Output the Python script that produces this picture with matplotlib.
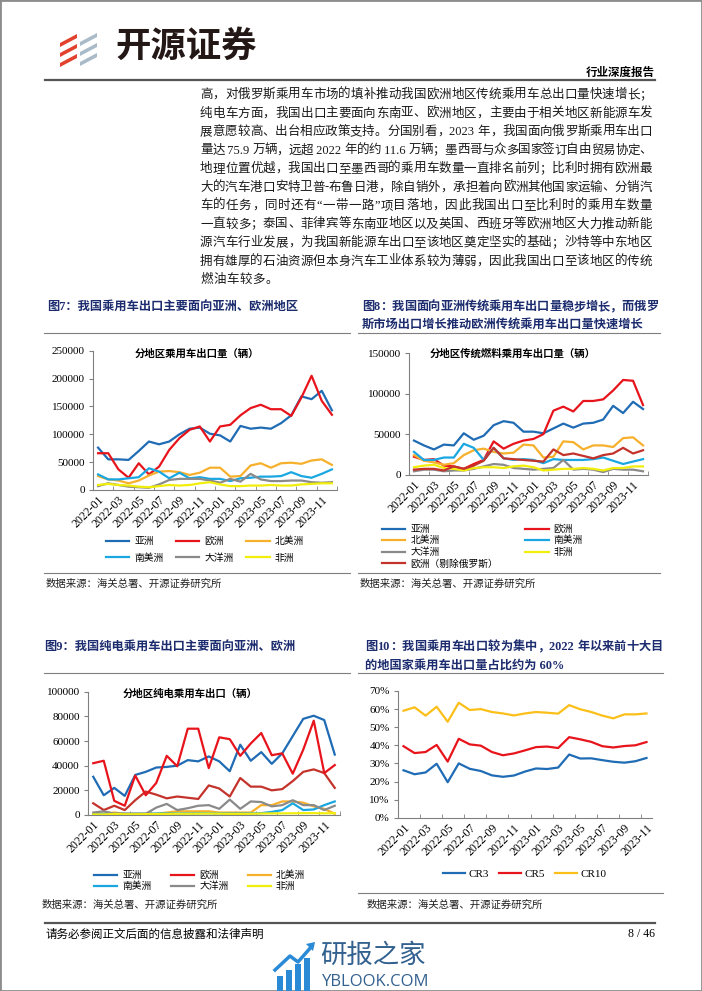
import re
import numpy as np
import matplotlib
matplotlib.use("Agg")
import matplotlib.pyplot as plt
from matplotlib.lines import Line2D
from matplotlib.patches import Polygon, Rectangle
from matplotlib.transforms import Affine2D
from matplotlib.ticker import PercentFormatter

plt.rcParams['font.family'] = ['Liberation Serif', 'Noto Sans CJK SC']
CJK = ['Noto Sans CJK SC', 'DejaVu Sans']

# ---- DATA

months = ['2022-01', '2022-02', '2022-03', '2022-04', '2022-05', '2022-06',
          '2022-07', '2022-08', '2022-09', '2022-10', '2022-11', '2022-12',
          '2023-01', '2023-02', '2023-03', '2023-04', '2023-05', '2023-06',
          '2023-07', '2023-08', '2023-09', '2023-10', '2023-11', '2023-12']

region_names = ['亚洲', '欧洲', '北美洲', '南美洲', '大洋洲', '非洲']

# fig 7: all passenger cars by region (units)
asia_all = [76000, 55000, 55000, 54000, 70000, 87000, 82000, 87000, 100000, 110000, 112000, 101000,
            98000, 87000, 115000, 110000, 112000, 110000, 120000, 134000, 168000, 163000, 178000, 143000]
europe_all = [66000, 66000, 37000, 22000, 48000, 28000, 42000, 72000, 93000, 108000, 114000, 87000,
              114000, 117000, 134000, 147000, 153000, 145000, 145000, 133000, 166000, 205000, 160000, 135000]
namerica_all = [25000, 19000, 17000, 12000, 17000, 26000, 33000, 34000, 32000, 27000, 31000, 40000,
                40000, 24000, 25000, 44000, 48000, 40000, 48000, 49000, 47000, 53000, 55000, 45000]
samerica_all = [28000, 19000, 19000, 21000, 23000, 39000, 33000, 21000, 31000, 21000, 23000, 20000,
                20000, 16000, 21000, 22000, 24000, 24000, 25000, 32000, 25000, 22000, 29000, 37000]
oceania_all = [7000, 12000, 9000, 6000, 5000, 4000, 10000, 18000, 20000, 20000, 20000, 17000,
               13000, 20000, 15000, 29000, 19000, 16000, 16000, 17000, 17000, 14000, 13000, 14000]
africa_all = [9000, 11000, 9000, 8000, 6000, 5000, 7000, 9000, 8000, 9000, 12000, 14000,
              10000, 7000, 7000, 8000, 8000, 9000, 8000, 8000, 10000, 11000, 12000, 12000]

# fig 8: ICE passenger cars by region
asia_ice = [42000, 36000, 31000, 37000, 36000, 51000, 43000, 48000, 61000, 66000, 64000, 53000,
            53000, 51000, 57000, 63000, 58000, 63000, 64000, 68000, 85000, 76000, 90000, 81000]
europe_ice = [22000, 18000, 19000, 11000, 10000, 7000, 13000, 18000, 41000, 32000, 38000, 42000,
              44000, 50000, 79000, 84000, 78000, 91000, 91000, 93000, 104000, 117000, 116000, 86000]
namerica_ice = [24000, 17000, 15000, 12000, 14000, 24000, 30000, 32000, 28000, 26000, 27000, 37000,
                36000, 21000, 22000, 41000, 40000, 31000, 36000, 36000, 34000, 45000, 46000, 36000]
samerica_ice = [28000, 18000, 18000, 21000, 21000, 38000, 33000, 18000, 33000, 20000, 18000, 19000,
                18000, 14000, 19000, 18000, 18000, 18000, 19000, 21000, 17000, 13000, 16000, 19000]
oceania_ice = [4000, 6000, 6000, 4000, 5000, 5000, 7000, 10000, 13000, 12000, 8000, 7000,
               6000, 7000, 8000, 18000, 6000, 7000, 6000, 3000, 7000, 6000, 6000, 4000]
africa_ice = [9000, 11000, 12000, 8000, 7000, 5000, 8000, 9000, 9000, 8000, 10000, 11000,
              9000, 5000, 6000, 7000, 7000, 8000, 7000, 5000, 8000, 8000, 10000, 10000]
europe_exru_ice = [6000, 7000, 7000, 5000, 10000, 7000, 11000, 17000, 33000, 20000, 19000, 18000,
                   17000, 16000, 31000, 24000, 26000, 23000, 20000, 24000, 26000, 33000, 26000, 30000]

# fig 9: BEV passenger cars by region
asia_bev = [31000, 16000, 22000, 15500, 32500, 35000, 38500, 39000, 40000, 44500, 43500, 47500,
            43500, 35500, 57000, 44000, 51000, 41500, 50000, 64000, 78000, 80500, 77000, 49000]
europe_bev = [42000, 44000, 11500, 7500, 32000, 16000, 26000, 48000, 39500, 70000, 70000, 38000,
              63000, 61500, 48000, 58000, 66500, 48500, 50000, 33500, 53000, 76500, 34000, 40500]
namerica_bev = [1000, 1000, 2000, 1000, 1000, 1000, 1000, 2000, 3000, 3000, 3000, 3000,
                2000, 2000, 2000, 2000, 8000, 8000, 11000, 11000, 10000, 7000, 5000, 1000]
samerica_bev = [800, 900, 900, 1000, 1000, 1000, 1200, 1300, 1200, 1300, 1400, 1400,
                1300, 1200, 1200, 1300, 1500, 2500, 4000, 9500, 4000, 4500, 8000, 11000]
oceania_bev = [2000, 3000, 1000, 1000, 1000, 1000, 6000, 9000, 4000, 5500, 7500, 8000,
               5000, 12500, 5000, 11000, 10500, 7000, 8000, 12000, 8000, 8000, 4000, 7500]
africa_bev = [500, 500, 800, 600, 600, 700, 800, 900, 1000, 1000, 1100, 1200,
              1100, 900, 900, 1000, 1200, 1300, 1300, 1400, 1500, 1500, 1400, 1500]
europe_exru_bev = [9500, 4000, 7500, 4000, 12000, 19000, 16500, 13500, 15000, 14000, 13000, 24000,
                   21500, 15000, 30000, 23000, 23000, 20000, 21000, 27500, 35000, 37000, 34000, 22000]

# fig 10: concentration ratios (%), 2022-01 .. 2023-11
cr3 = [26.2, 24.0, 25.0, 29.8, 19.6, 30.0, 27.0, 25.8, 23.4, 22.6, 23.3, 25.5,
       27.2, 26.9, 27.7, 34.9, 32.7, 32.8, 31.8, 30.9, 30.4, 31.2, 33.0]
cr5 = [39.5, 35.7, 36.3, 40.2, 31.0, 43.6, 40.5, 39.8, 36.3, 34.5, 35.5, 37.2,
       39.0, 39.3, 38.5, 44.5, 43.3, 41.9, 39.5, 38.8, 39.6, 40.0, 41.8]
cr10 = [59.1, 61.0, 56.4, 61.3, 53.0, 63.5, 59.5, 60.0, 58.4, 57.6, 56.5, 57.6,
        58.4, 58.0, 57.5, 62.2, 59.9, 58.4, 56.4, 54.9, 57.1, 57.1, 57.6]

body_lines = [
    '高，对俄罗斯乘用车市场的填补推动我国欧洲地区传统乘用车总出口量快速增长；',
    '纯电车方面，我国出口主要面向东南亚、欧洲地区，主要由于相关地区新能源车发',
    '展意愿较高、出台相应政策支持。分国别看，2023 年，我国面向俄罗斯乘用车出口',
    '量达 75.9 万辆，远超 2022 年的约 11.6 万辆；墨西哥与众多国家签订自由贸易协定、',
    '地理位置优越，我国出口至墨西哥的乘用车数量一直排名前列；比利时拥有欧洲最',
    '大的汽车港口安特卫普-布鲁日港，除自销外，承担着向欧洲其他国家运输、分销汽',
    '车的任务，同时还有“一带一路”项目落地，因此我国出口至比利时的乘用车数量',
    '一直较多；泰国、菲律宾等东南亚地区以及英国、西班牙等欧洲地区大力推动新能',
    '源汽车行业发展，为我国新能源车出口至该地区奠定坚实的基础；沙特等中东地区',
    '拥有雄厚的石油资源但本身汽车工业体系较为薄弱，因此我国出口至该地区的传统',
    '燃油车较多。',
]

# ---- STYLE

C_ASIA, C_EU, C_NA, C_SA = '#1F6CB5', '#E8141C', '#F6B02C', '#1AA7E1'
C_OC, C_AF, C_EUX = '#8A8A8A', '#F2EE0C', '#C4332B'
C_CAP = '#1C2C6E'
GRID = '#808080'

W, H = 702, 991
fig = plt.figure(figsize=(W / 100, H / 100), dpi=100)
T = Affine2D().scale(1 / W, -1 / H).translate(0, 1) + fig.transFigure
renderer = fig.canvas.get_renderer()


def put(x, y, s, **kw):
    return fig.text(x, y, s, transform=T, **kw)


def hline(x0, x1, y, lw=0.8, color='#7f7f7f'):
    fig.add_artist(Line2D([x0, x1], [y, y], transform=T, lw=lw, color=color))


def justify(s, x0, x1, y, full=True, **kw):
    """ Spreads a line of mixed CJK/latin text between x0 and x1. """
    parts = re.findall(r'[ -~]+|.', s)
    arts = [put(0, y, p, va='center', ha='left', **kw) for p in parts]
    widths = [a.get_window_extent(renderer).width for a in arts]
    gap = (x1 - x0 - sum(widths)) / max(len(parts) - 1, 1) if full else 0.6
    x = x0
    for a, w in zip(arts, widths):
        a.set_x(x)
        x += w + gap


def axes_px(x0, y0, x1, y1):
    return fig.add_axes([x0 / W, 1 - y1 / H, (x1 - x0) / W, (y1 - y0) / H])


def style(ax, n, ymax, ystep):
    ax.set_xlim(-0.5, n - 0.5)
    ax.set_ylim(0, ymax)
    ax.set_yticks(np.arange(0, ymax + ystep / 2, ystep))
    ax.set_xticks(range(0, n, 2))
    ax.set_xticklabels(months[:n:2])
    ax.set_xticks(np.arange(1.5, n, 2), minor=True)
    for sp in ['top', 'right']:
        ax.spines[sp].set_visible(False)
    for sp in ['left', 'bottom']:
        ax.spines[sp].set_color(GRID)
        ax.spines[sp].set_linewidth(0.8)
    ax.tick_params(axis='x', which='major', length=0, pad=3, labelsize=8.5)
    ax.tick_params(axis='x', which='minor', length=3, direction='in', color=GRID)
    ax.tick_params(axis='y', length=3, direction='out', color=GRID, pad=3, labelsize=8)
    for lab in ax.get_xticklabels():
        lab.set_rotation(45)
        lab.set_ha('right')
        lab.set_va('top')
        lab.set_rotation_mode('anchor')
    ax.patch.set_alpha(0)


# ---- PAGE FRAME / HEADER

fig.add_artist(Rectangle((0, 0), 1, 1, transform=fig.transFigure, fill=False,
                         edgecolor='#8c8c8c', lw=2))

for yc in [35, 45, 55]:
    fig.add_artist(Polygon([(60, yc + 8), (77, yc - 1), (77, yc + 3), (60, yc + 12)],
                           closed=True, transform=T, color='#E2412E', lw=0))
for yc in [34, 44, 54]:
    fig.add_artist(Polygon([(80, yc + 8), (97, yc - 1), (97, yc + 3), (80, yc + 12)],
                           closed=True, transform=T, color='#A9BAC8', lw=0))
put(115, 46, '开源证券', family=CJK, size=25.5, weight='bold', color='#231815', va='center')
put(655, 72, '行业深度报告', family=CJK, size=8.3, weight='bold', ha='right', va='center')
hline(45, 655, 80, lw=1.6, color='#555555')

for i, line in enumerate(body_lines):
    justify(line, 200, 652, 95 + 18.5 * i, full=(i < len(body_lines) - 1),
            size=9, color='#1a1a1a')

# ---- FIG 7

put(47, 307, '图7：我国乘用车出口主要面向亚洲、欧洲地区', size=8.8, weight='bold', color=C_CAP, va='center')
hline(44, 350, 333)
ax = axes_px(93, 350.7, 337, 490)
series7 = [asia_all, europe_all, namerica_all, samerica_all, oceania_all, africa_all]
colors6 = [C_ASIA, C_EU, C_NA, C_SA, C_OC, C_AF]
h7 = []
for name, vals, c in zip(region_names, series7, colors6):
    h7 += ax.plot(range(len(vals)), vals, color=c, lw=1.6, label=name)
style(ax, 24, 250000, 50000)
put(197, 354, '分地区乘用车出口量（辆）', family=CJK, size=7.5, weight='bold', ha='center', va='center')
order = [0, 3, 1, 4, 2, 5]
fig.legend([h7[k] for k in order], [region_names[k] for k in order], ncol=3,
           loc='upper left', bbox_to_anchor=(106 / W, 1 - 536 / H), frameon=False,
           prop={'family': CJK, 'size': 7}, handlelength=2.4, handletextpad=0.5,
           columnspacing=1.3, labelspacing=0.7, borderpad=0, borderaxespad=0)
hline(44, 350, 573)
put(46, 584, '数据来源：海关总署、开源证券研究所', family=CJK, size=7.5, va='center', color='#222222')

# ---- FIG 8

justify('图8：我国面向亚洲传统乘用车出口量稳步增长，而俄罗', 362, 658, 307,
        size=8.8, weight='bold', color=C_CAP)
put(362, 326, '斯市场出口增长推动欧洲传统乘用车出口量快速增长', size=8.8, weight='bold',
    color=C_CAP, va='center')
hline(358, 660, 333)
ax = axes_px(409, 353.3, 648, 474.5)
names8 = ['亚洲', '欧洲', '北美洲', '南美洲', '大洋洲', '非洲', '欧洲（剔除俄罗斯）']
series8 = [asia_ice, europe_ice, namerica_ice, samerica_ice, oceania_ice, africa_ice, europe_exru_ice]
colors7 = colors6 + [C_EUX]
h8 = []
for name, vals, c in zip(names8, series8, colors7):
    h8 += ax.plot(range(len(vals)), vals, color=c, lw=1.6, label=name)
style(ax, 24, 150000, 50000)
put(513, 354, '分地区传统燃料乘用车出口量（辆）', family=CJK, size=7.5, weight='bold', ha='center', va='center')
order = [0, 2, 4, 6, 1, 3, 5]
fig.legend([h8[k] for k in order], [names8[k] for k in order], ncol=2,
           loc='upper left', bbox_to_anchor=(382 / W, 1 - 524 / H), frameon=False,
           prop={'family': CJK, 'size': 7}, handlelength=2.4, handletextpad=0.5,
           columnspacing=2.8, labelspacing=0.15, borderpad=0, borderaxespad=0)
hline(358, 660, 573)
put(360, 584, '数据来源：海关总署、开源证券研究所', family=CJK, size=7.5, va='center', color='#222222')

# ---- FIG 9

put(44, 647, '图9：我国纯电乘用车出口主要面向亚洲、欧洲', size=8.8, weight='bold', color=C_CAP, va='center')
hline(44, 350, 673)
ax = axes_px(88, 691.7, 340, 815)
series9 = [asia_bev, europe_bev, namerica_bev, samerica_bev, oceania_bev, africa_bev]
h9 = []
for name, vals, c in zip(region_names, series9, colors6):
    h9 += ax.plot(range(len(vals)), vals, color=c, lw=1.6, label=name)
ax.plot(range(len(europe_exru_bev)), europe_exru_bev, color=C_EUX, lw=1.6, zorder=1.9)
style(ax, 24, 100000, 20000)
put(190, 694, '分地区纯电乘用车出口（辆）', family=CJK, size=7.5, weight='bold', ha='center', va='center')
order = [0, 3, 1, 4, 2, 5]
fig.legend([h9[k] for k in order], [region_names[k] for k in order], ncol=3,
           loc='upper left', bbox_to_anchor=(94 / W, 1 - 870 / H), frameon=False,
           prop={'family': CJK, 'size': 7}, handlelength=2.4, handletextpad=0.5,
           columnspacing=2.0, labelspacing=0.1, borderpad=0, borderaxespad=0)
put(42, 905, '数据来源：海关总署、开源证券研究所', family=CJK, size=7.5, va='center', color='#222222')

# ---- FIG 10

justify('图10：我国乘用车出口较为集中，2022 年以来前十大目', 365, 663, 647,
        size=8.8, weight='bold', color=C_CAP)
put(365, 666, '的地国家乘用车出口量占比约为 60%', size=8.8, weight='bold', color=C_CAP, va='center')
hline(358, 663, 673)
ax = axes_px(398, 691, 652, 817.7)
h10 = []
for name, vals, c in zip(['CR3', 'CR5', 'CR10'], [cr3, cr5, cr10], [C_ASIA, C_EU, '#FBBF1A']):
    h10 += ax.plot(range(len(vals)), vals, color=c, lw=1.6, label=name)
style(ax, 23, 70, 10)
ax.yaxis.set_major_formatter(PercentFormatter(100, decimals=0))
fig.legend(h10, ['CR3', 'CR5', 'CR10'], ncol=3, loc='upper left',
           bbox_to_anchor=(443 / W, 1 - 869 / H), frameon=False,
           prop={'size': 8}, handlelength=2.0, handletextpad=0.3,
           columnspacing=0.9, borderpad=0, borderaxespad=0)
hline(358, 663, 893)
put(367, 905, '数据来源：海关总署、开源证券研究所', family=CJK, size=7.5, va='center', color='#222222')

# ---- FOOTER

hline(45, 655, 923, lw=1.6, color='#555555')
put(45, 934, '请务必参阅正文后面的信息披露和法律声明', family=CJK, size=8.3, va='center')
put(655, 934, '8 / 46', size=8.5, ha='right', va='center')

# watermark logo
for k, top in enumerate([976, 970, 964, 958]):
    fig.add_artist(Rectangle((277 + k * 9, top), 6, 991 - top, transform=T,
                             color='#2A8AD6', lw=0))
fig.add_artist(Line2D([275, 290, 298, 312], [970, 956, 962, 946], transform=T,
                      color='#2A8AD6', lw=2.5))
fig.add_artist(Polygon([(306, 944), (315, 942), (313, 951)], closed=True, transform=T,
                       color='#2A8AD6', lw=0))
put(320, 955, '研报之家', family=CJK, size=19, color='#33618F', va='center')
put(322, 982, 'YBLOOK.COM', family=['Open Sans', 'DejaVu Sans'], size=12, color='#33618F', va='center')

fig.savefig('out.png', dpi=100)
